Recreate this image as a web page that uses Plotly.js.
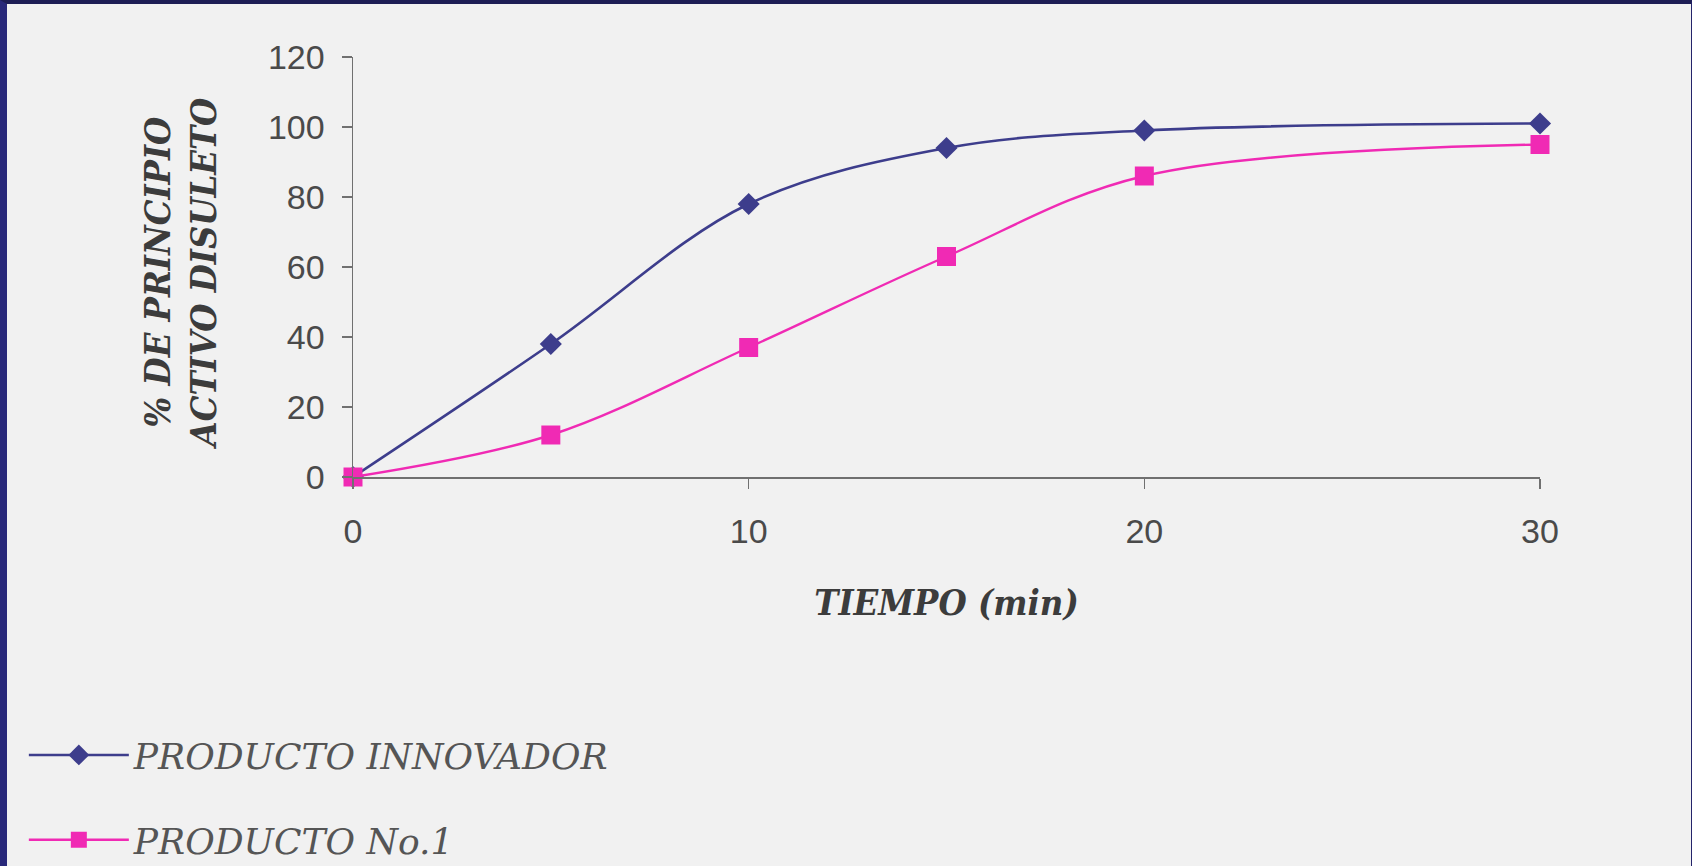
<!DOCTYPE html>
<html>
<head>
<meta charset="utf-8">
<script src="https://cdn.plot.ly/plotly-3.0.1.min.js"></script>
<style>
  html, body { margin: 0; padding: 0; background: #22226a; }
  body { width: 1692px; height: 866px; overflow: hidden; }
  #frame {
    position: absolute; left: 0; top: 0;
    width: 1684px; height: 862px;
    border-left: 7px solid #28287a;
    border-top: 4px solid #1d1d55;
    border-right: 1px solid #24246a;
    background: #f1f1f1;
  }
  #chart { width: 1684px; height: 862px; }
</style>
</head>
<body>
<div id="frame"><div id="chart"></div></div>
<script>
// Dissolution profile: % of active ingredient dissolved vs. time (min)
const tiempo = [0, 5, 10, 15, 20, 30];
const innovador = [0, 38, 78, 94, 99, 101];
const producto1 = [0, 12, 37, 63, 86, 95];
const seriesNames = ['PRODUCTO INNOVADOR', 'PRODUCTO No.1'];
const xTicks = [0, 10, 20, 30];
const yTicks = [0, 20, 40, 60, 80, 100, 120];
const yTitle = '% DE PRINCIPIO<br>ACTIVO DISULETO';
const xTitle = 'TIEMPO (min)';

const tickFont = { family: 'Liberation Sans, Arial, sans-serif', size: 34, color: '#4a4a4a' };
const titleFont = { family: 'DejaVu Serif Condensed, DejaVu Serif, serif', size: 36, color: '#3c3c3c', weight: 'bold', style: 'italic' };

const traces = [
  {
    x: tiempo, y: innovador, name: seriesNames[0], legendgroup: 'a',
    type: 'scatter', mode: 'lines+markers', cliponaxis: false,
    line: { color: '#3d3d8c', width: 2.6, shape: 'spline', smoothing: 1 },
    marker: { symbol: 'diamond', size: 17, color: '#3d3d8c' }
  },
  {
    x: tiempo, y: producto1, name: seriesNames[1], legendgroup: 'b',
    type: 'scatter', mode: 'lines+markers', cliponaxis: false,
    line: { color: '#f02ab4', width: 2.4, shape: 'spline', smoothing: 1 },
    marker: { symbol: 'square', size: 19, color: '#f02ab4' }
  }
];

const layout = {
  width: 1684, height: 862,
  margin: { l: 346, r: 151, t: 53, b: 389, autoexpand: false },
  paper_bgcolor: '#f1f1f1',
  plot_bgcolor: '#f1f1f1',
  showlegend: true,
  xaxis: {
    range: [0, 30], tickvals: xTicks, ticktext: xTicks.map(String),
    showgrid: false, zeroline: false,
    showline: true, linecolor: '#707070', linewidth: 1.5,
    ticks: 'outside', ticklen: 10, tickcolor: '#707070', tickwidth: 1.5,
    tickfont: tickFont, ticklabelstandoff: 14,
    title: { text: xTitle, font: titleFont, standoff: 40 },
    automargin: false
  },
  yaxis: {
    range: [0, 120], tickvals: yTicks, ticktext: yTicks.map(String),
    showgrid: false, zeroline: false,
    showline: true, linecolor: '#707070', linewidth: 1.5,
    ticks: 'outside', ticklen: 10, tickcolor: '#707070', tickwidth: 1.5,
    tickfont: tickFont, ticklabelstandoff: 10,
    automargin: false
  },
  // two-line rotated y-axis caption, placed left of the tick labels
  annotations: [{
    text: yTitle, textangle: -90,
    xref: 'paper', yref: 'paper', x: 0, y: 0.5,
    xanchor: 'right', yanchor: 'middle', xshift: -127, yshift: -7,
    showarrow: false, align: 'center',
    font: titleFont
  }],
  legend: {
    xref: 'container', yref: 'container',
    x: 0.01, y: 0.1635, xanchor: 'left', yanchor: 'top',
    bgcolor: 'rgba(0,0,0,0)',
    itemwidth: 100, tracegroupgap: 35,
    font: { family: 'DejaVu Serif, serif', size: 36, color: '#555555', style: 'italic' }
  }
};

Plotly.newPlot('chart', traces, layout, { displayModeBar: false, staticPlot: true });
</script>
</body>
</html>
